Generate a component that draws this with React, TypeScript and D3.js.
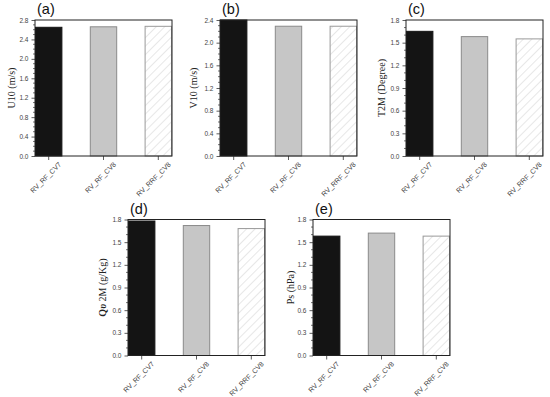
import React, { useEffect, useRef } from 'react';
import * as d3 from 'd3';

// categories (x axis)
const categories = ['RV_RF_CV7', 'RV_RF_CV8', 'RV_RRF_CV8'];

// values per panel
const u10Values = [2.65, 2.66, 2.67];
const v10Values = [2.4, 2.29, 2.29];
const t2mValues = [1.65, 1.58, 1.55];
const qv2mValues = [1.78, 1.72, 1.68];
const psValues = [1.58, 1.62, 1.58];

// y axis tick labels
const u10Ticks = [0, 0.4, 0.8, 1.2, 1.6, 2.0, 2.4, 2.8];
const v10Ticks = [0, 0.4, 0.8, 1.2, 1.6, 2.0, 2.4];
const t2mTicks = [0, 0.3, 0.6, 0.9, 1.2, 1.5, 1.8];
const qv2mTicks = [0, 0.3, 0.6, 0.9, 1.2, 1.5, 1.8];
const psTicks = [0, 0.3, 0.6, 0.9, 1.2, 1.5, 1.8];

const panels = [
  { tag: '(a)', label: 'U10 (m/s)', values: u10Values, ticks: u10Ticks, left: 35, top: 20, labelX: 11.5 },
  { tag: '(b)', label: 'V10 (m/s)', values: v10Values, ticks: v10Ticks, left: 220, top: 20, labelX: 193 },
  { tag: '(c)', label: 'T2M (Degree)', values: t2mValues, ticks: t2mTicks, left: 406, top: 20, labelX: 381.5 },
  { tag: '(d)', label: 'QV', values: qv2mValues, ticks: qv2mTicks, left: 128, top: 219.5, labelX: 102 },
  { tag: '(e)', label: 'Ps (hPa)', values: psValues, ticks: psTicks, left: 313, top: 219.5, labelX: 290 },
];

const W = 137;
const H = 136;
const fills = ['#141414', '#c6c6c6', 'url(#hatch)'];
const strokes = ['#141414', '#8a8a8a', '#9a9a9a'];

export default function App() {
  const ref = useRef<SVGSVGElement>(null);

  useEffect(() => {
    const svg = d3.select(ref.current);
    svg.selectAll('*').remove();

    // hatch pattern for third bar
    const pat = svg.append('defs').append('pattern')
      .attr('id', 'hatch')
      .attr('patternUnits', 'userSpaceOnUse')
      .attr('width', 6)
      .attr('height', 6)
      .attr('patternTransform', 'rotate(45)');
    pat.append('rect').attr('width', 6).attr('height', 6).attr('fill', '#fff');
    pat.append('line')
      .attr('x1', 0).attr('y1', 0).attr('x2', 0).attr('y2', 6)
      .attr('stroke', '#c4c4c4').attr('stroke-width', 0.8);

    panels.forEach((p) => {
      const g = svg.append('g').attr('transform', `translate(${p.left},${p.top})`);
      const yMax = p.ticks[p.ticks.length - 1];

      const x = d3.scaleBand().domain(categories).range([0, W]).paddingInner(0.5).paddingOuter(0);
      const y = d3.scaleLinear().domain([0, yMax]).range([H, 0]);

      // bars
      g.selectAll('.bar')
        .data(p.values)
        .enter().append('rect')
        .attr('x', (d, i) => x(categories[i])! + 0.5)
        .attr('y', (d) => y(d))
        .attr('width', x.bandwidth() - 1)
        .attr('height', (d) => H - y(d))
        .attr('fill', (d, i) => fills[i])
        .attr('stroke', (d, i) => strokes[i])
        .attr('stroke-width', 1);

      // minor ticks every 0.1
      const minor = d3.range(0, yMax + 1e-6, 0.1).map((v) => +v.toFixed(2))
        .filter((v) => !p.ticks.some((t) => Math.abs(t - v) < 1e-6));
      g.selectAll('.minor')
        .data(minor)
        .enter().append('line')
        .attr('x1', -2).attr('x2', 0)
        .attr('y1', (d) => y(d)).attr('y2', (d) => y(d))
        .attr('stroke', '#333').attr('stroke-width', 0.7);

      // y axis
      const yAxis = g.append('g')
        .call(d3.axisLeft(y).tickValues(p.ticks).tickFormat(d3.format('.1f')).tickSize(3.5).tickPadding(3));
      yAxis.select('.domain').remove();
      yAxis.selectAll('line').attr('stroke', '#333').attr('stroke-width', 0.8);
      yAxis.selectAll('text')
        .attr('font-family', 'Arial, "Liberation Sans", sans-serif')
        .attr('font-size', 6.5)
        .attr('fill', '#444');

      // x axis
      const xAxis = g.append('g')
        .attr('transform', `translate(0,${H})`)
        .call(d3.axisBottom(x).tickSize(4).tickFormat(() => ''));
      xAxis.select('.domain').remove();
      xAxis.selectAll('line').attr('stroke', '#333').attr('stroke-width', 0.8);

      g.selectAll('.xlab')
        .data(categories)
        .enter().append('text')
        .attr('transform', (d) => `translate(${x(d)! + x.bandwidth() / 2 + 13},${H + 9}) rotate(-45)`)
        .attr('text-anchor', 'end')
        .attr('font-family', 'Arial, "Liberation Sans", sans-serif')
        .attr('font-size', 7)
        .attr('fill', '#444')
        .text((d) => d);

      // frame
      g.append('rect')
        .attr('width', W).attr('height', H)
        .attr('fill', 'none').attr('stroke', '#222').attr('stroke-width', 1);

      // panel tag
      g.append('text')
        .attr('x', 2).attr('y', -6)
        .attr('font-family', 'Arial, "Liberation Sans", sans-serif')
        .attr('font-size', 14.5)
        .attr('fill', '#111')
        .text(p.tag);

      // y label
      const lab = svg.append('text')
        .attr('transform', `translate(${p.labelX},${p.top + H / 2}) rotate(-90)`)
        .attr('text-anchor', 'middle')
        .attr('dominant-baseline', 'central')
        .attr('font-family', '"Times New Roman", "Liberation Serif", serif')
        .attr('font-size', 10)
        .attr('fill', '#222');
      if (p.label === 'QV') {
        lab.append('tspan').attr('font-weight', 'bold').text('Q');
        lab.append('tspan').attr('font-weight', 'bold').attr('font-style', 'italic').text('\u03c5');
        lab.append('tspan').text(' 2M (g/Kg)');
      } else {
        lab.text(p.label);
      }
    });
  }, []);

  return (
    <svg
      ref={ref}
      width={550}
      height={397}
      style={{ position: 'absolute', left: 0, top: 0, background: '#fff' }}
    />
  );
}
